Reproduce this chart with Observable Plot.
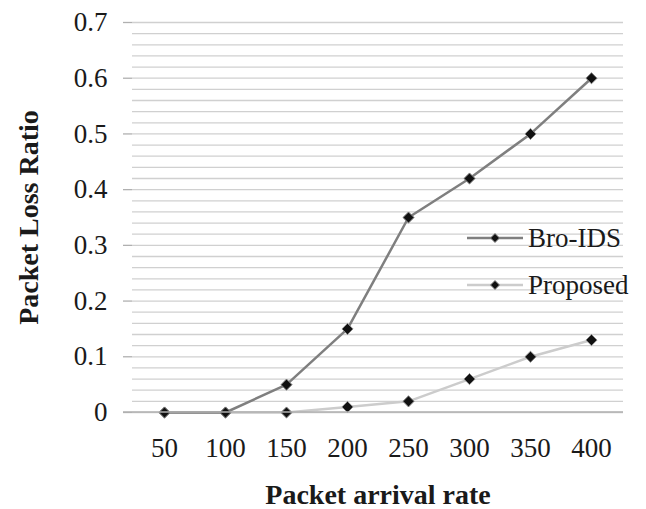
<!DOCTYPE html>
<html>
<head>
<meta charset="utf-8">
<script src="https://cdn.jsdelivr.net/npm/d3@7"></script>
<script src="https://cdn.jsdelivr.net/npm/@observablehq/plot@0.6"></script>
<style>
  html, body { margin: 0; padding: 0; background: #fff; }
  #wrap { position: relative; width: 646px; height: 509px; }
  #legend { position: absolute; left: 0; top: 0; pointer-events: none; }
  #legend .item { position: absolute; display: flex; align-items: center; white-space: nowrap; font-family: "Liberation Serif", "Times New Roman", serif; font-size: 27px; color: #1a1a1a; }
</style>
</head>
<body>
<div id="wrap"><div id="legend"></div></div>
<script>
const rates = [50, 100, 150, 200, 250, 300, 350, 400];
const broIDS = [0, 0, 0.05, 0.15, 0.35, 0.42, 0.5, 0.6];
const proposed = [0, 0, 0, 0.01, 0.02, 0.06, 0.1, 0.13];
const yTicks = [0, 0.1, 0.2, 0.3, 0.4, 0.5, 0.6, 0.7];
const seriesNames = ["Bro-IDS", "Proposed"];
const seriesColors = ["#7f7f7f", "#cccccc"];

const data = [];
rates.forEach((r, i) => {
  data.push({rate: r, value: broIDS[i], series: seriesNames[0]});
  data.push({rate: r, value: proposed[i], series: seriesNames[1]});
});
const minor = d3.range(0, 0.7001, 0.02);
const font = '"Liberation Serif", "Times New Roman", serif';

const chart = Plot.plot({
  width: 646,
  height: 509,
  marginLeft: 132,
  marginRight: 23,
  marginTop: 22,
  marginBottom: 97,
  style: {fontFamily: font, fontSize: "27px", color: "#1a1a1a", background: "#fff"},
  x: {type: "point", domain: rates, padding: 0.5},
  y: {domain: [0, 0.7]},
  marks: [
    Plot.ruleY(minor, {stroke: "#d0d0d0", strokeWidth: 1.3}),
    Plot.axisY({ticks: yTicks, tickSize: 9, tickPadding: 16, stroke: "#b0b0b0", strokeWidth: 1.3,
      tickFormat: d => d === 0 ? "0" : d.toFixed(1), label: null, fill: "#1a1a1a", fontSize: 27}),
    Plot.axisX({tickSize: 0, tickPadding: 25, label: null, fill: "#1a1a1a", fontSize: 27}),
    Plot.line(data.filter(d => d.series === seriesNames[1]), {x: "rate", y: "value", stroke: seriesColors[1], strokeWidth: 2.5}),
    Plot.line(data.filter(d => d.series === seriesNames[0]), {x: "rate", y: "value", stroke: seriesColors[0], strokeWidth: 2.5}),
    Plot.dot(data, {x: "rate", y: "value", symbol: "diamond2", r: 5, fill: "#111", stroke: "#888", strokeWidth: 1}),
    Plot.text(["Packet arrival rate"], {frameAnchor: "bottom", textAnchor: "middle", lineAnchor: "middle", dy: 83, fontWeight: "bold", fontSize: 28, fill: "#1a1a1a"}),
    Plot.text(["Packet Loss Ratio"], {frameAnchor: "left", textAnchor: "middle", lineAnchor: "middle", dx: -103, rotate: -90, fontWeight: "bold", fontSize: 28, fill: "#1a1a1a"})
  ]
});

const wrap = document.getElementById("wrap");
wrap.insertBefore(chart, wrap.firstChild);

// x-axis baseline at y = 0
const yScale = chart.scale("y");
const svg = d3.select(chart);
svg.append("line").attr("x1", 132 - 9).attr("x2", 646 - 23)
  .attr("y1", yScale.apply(0)).attr("y2", yScale.apply(0))
  .attr("stroke", "#b0b0b0").attr("stroke-width", 1.5);

// legend (overlaid inside the plot area, as in the reference)
const legend = document.getElementById("legend");
const legendTop = [238, 285];
seriesNames.forEach((name, i) => {
  const item = document.createElement("div");
  item.className = "item";
  item.style.left = "466px";
  item.style.top = (legendTop[i] - 16) + "px";
  item.style.height = "32px";
  item.innerHTML = `<svg width="58" height="32" style="display:block"><line x1="1" x2="57" y1="16" y2="16" stroke="${seriesColors[i]}" stroke-width="2.5"/><path d="M29,11.5L33.5,16L29,20.5L24.5,16Z" fill="#111" stroke="#888" stroke-width="1"/></svg><span style="margin-left:4px;line-height:32px">${name}</span>`;
  legend.appendChild(item);
});
</script>
</body>
</html>
